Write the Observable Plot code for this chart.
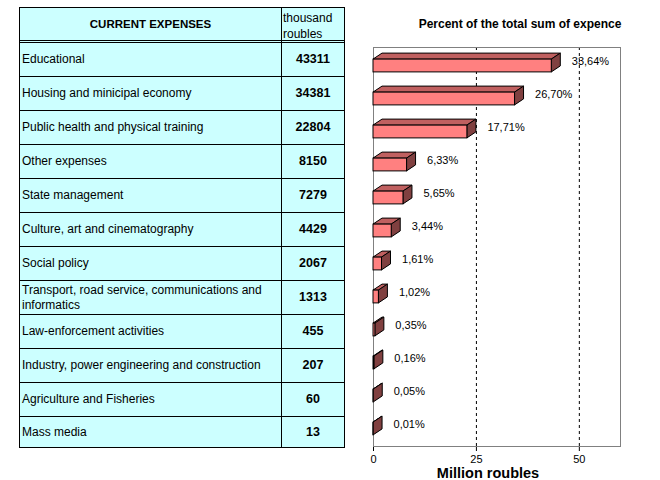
<!DOCTYPE html>
<html>
<head>
<meta charset="utf-8">
<script src="https://cdn.jsdelivr.net/npm/d3@7"></script>
<script src="https://cdn.jsdelivr.net/npm/@observablehq/plot@0.6"></script>
<style>
html, body { margin: 0; padding: 0; background: #fff; }
body { width: 660px; height: 480px; position: relative; overflow: hidden; font-family: "Liberation Sans", Arial, sans-serif; color: #000; }
#table { position: absolute; left: 19px; top: 7px; display: grid; grid-template-columns: 262px 63px; grid-template-rows: 35px repeat(11, 34px) 31px; border-left: 1px solid #000; border-top: 1px solid #000; background: #CCFFFF; }
.cell { box-sizing: border-box; border-right: 1px solid #000; border-bottom: 1px solid #000; display: flex; align-items: center; font-size: 12px; line-height: 15px; overflow: hidden; }
.name { padding-left: 2px; padding-right: 4px; }
.num { justify-content: center; font-weight: bold; font-size: 12.5px; }
.head { border-bottom: 3px double #000; }
.h1 { justify-content: center; font-weight: bold; font-size: 11.5px; }
.h2 { padding-left: 1px; padding-top: 3px; line-height: 16px; }
#chart { position: absolute; left: 360px; top: 0; }
#title { position: absolute; left: 380px; width: 280px; top: 17px; text-align: center; font-weight: bold; font-size: 12px; line-height: 14px; }
#xlabel { position: absolute; left: 388px; width: 200px; top: 467px; text-align: center; font-weight: bold; font-size: 14.5px; line-height: 12px; }
</style>
</head>
<body>
<div id="table"></div>
<div id="chart"></div>
<div id="title"></div>
<div id="xlabel"></div>
<script>
// ---- data ----
const headerName = "CURRENT EXPENSES";
const headerUnit = "thousand roubles";
const chartTitle = "Percent of the total sum of expence";
const axisTitle = "Million roubles";
const categories = [
  "Educational",
  "Housing and minicipal economy",
  "Public health and physical training",
  "Other expenses",
  "State management",
  "Culture, art and cinematography",
  "Social policy",
  "Transport, road service, communications and informatics",
  "Law-enforcement activities",
  "Industry, power engineering and construction",
  "Agriculture and Fisheries",
  "Mass media"
];
const thousandRoubles = [43311, 34381, 22804, 8150, 7279, 4429, 2067, 1313, 455, 207, 60, 13];
const percents = [33.64, 26.70, 17.71, 6.33, 5.65, 3.44, 1.61, 1.02, 0.35, 0.16, 0.05, 0.01];
const xTicks = [0, 25, 50];

const rows = categories.map((c, i) => ({
  category: c,
  thousand: thousandRoubles[i],
  million: thousandRoubles[i] / 1000,
  percent: percents[i]
}));

// ---- table ----
const table = document.getElementById("table");
function cell(cls, text) {
  const d = document.createElement("div");
  d.className = "cell " + cls;
  d.textContent = text;
  table.appendChild(d);
}
cell("head h1", headerName);
cell("head h2", headerUnit);
rows.forEach(r => {
  cell("name", r.category);
  cell("num", String(r.thousand));
});

// ---- chart ----
const FRONT = "#FF8080", TOP = "#C06060", SIDE = "#804040";
const INSET = 10.1, D = 9, H = 6;

function faces(index, scales, values, dimensions) {
  const x = scales.x, y = scales.y;
  const bw = typeof y.bandwidth === "function"
    ? y.bandwidth()
    : (dimensions.height - dimensions.marginTop - dimensions.marginBottom) / categories.length;
  const g = d3.create("svg:g").attr("stroke", "black").attr("stroke-width", 1).attr("stroke-linejoin", "miter");
  rows.forEach(d => {
    const x0 = x(0), x1 = x(d.million);
    const top = y(d.category) + INSET, bot = y(d.category) + bw - INSET;
    g.append("polygon").attr("fill", TOP)
      .attr("points", [[x0, top], [x0 + D, top - H], [x1 + D, top - H], [x1, top]].join(" "));
    g.append("polygon").attr("fill", SIDE)
      .attr("points", [[x1, top], [x1 + D, top - H], [x1 + D, bot - H], [x1, bot]].join(" "));
  });
  return g.node();
}

const chart = Plot.plot({
  width: 300,
  height: 480,
  marginLeft: 13,
  marginRight: 40,
  marginTop: 47,
  marginBottom: 34,
  style: { fontFamily: "'Liberation Sans', Arial, sans-serif", fontSize: "11px", background: "transparent", color: "black" },
  x: { domain: [0, 60], ticks: xTicks, tickSize: 5, tickPadding: 4, label: null, line: true },
  y: { domain: categories, padding: 0, axis: null },
  marks: [
    Plot.ruleX(xTicks.filter(t => t > 0), { stroke: "black", strokeDasharray: "3,3" }),
    Plot.frame({ stroke: "#808080" }),
    faces,
    Plot.barX(rows, { x: "million", y: "category", fill: FRONT, stroke: "black", strokeWidth: 1, insetTop: INSET, insetBottom: INSET }),
    Plot.text(rows, {
      x: "million", y: "category",
      text: d => d.percent.toFixed(2).replace(".", ",") + "%",
      textAnchor: "start", dx: 20, dy: -5, fill: "black"
    })
  ]
});
document.getElementById("chart").appendChild(chart);
document.getElementById("title").textContent = chartTitle;
document.getElementById("xlabel").textContent = axisTitle;
</script>
</body>
</html>
